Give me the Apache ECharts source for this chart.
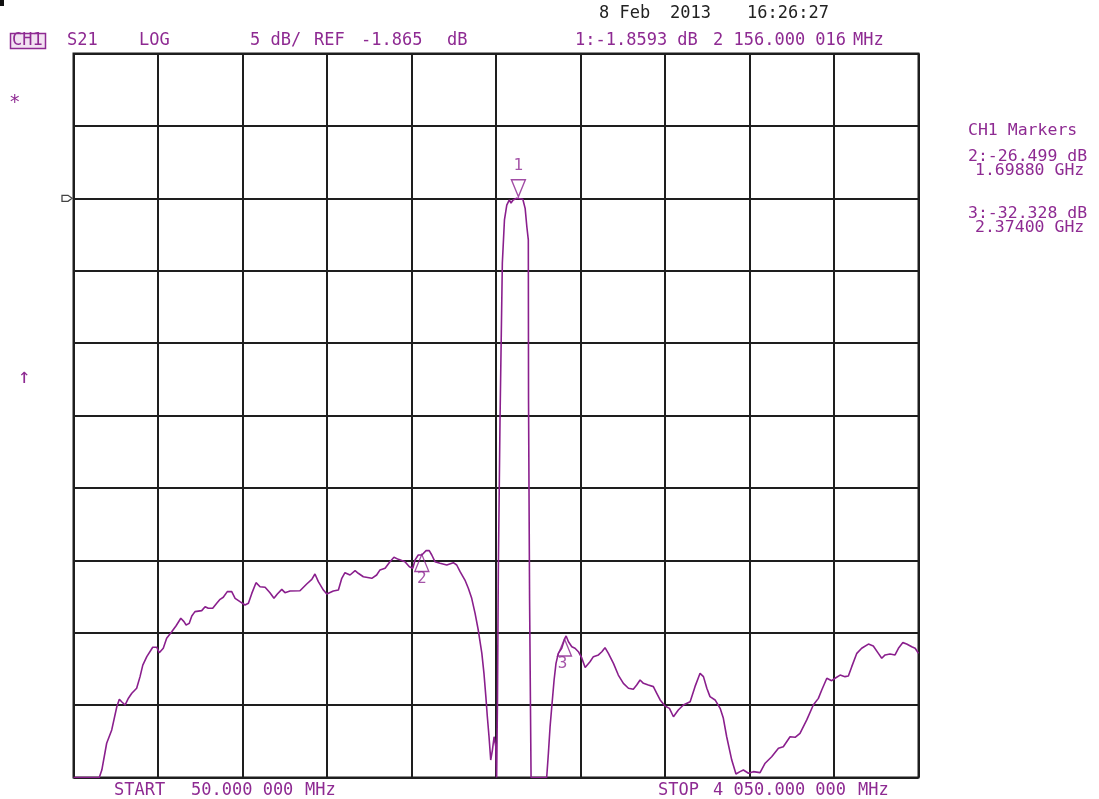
<!DOCTYPE html>
<html>
<head>
<meta charset="utf-8">
<script src="https://cdn.jsdelivr.net/npm/echarts@6/dist/echarts.min.js"></script>
<style>
  html, body { margin: 0; padding: 0; background: #ffffff; }
  #chart { width: 1099px; height: 799px; }
</style>
</head>
<body>
<div id="chart"></div>
<script>
// Sweep settings of the S21 display
const START_MHZ = 50;
const STOP_MHZ = 4050;
const FREQ_PER_DIV = 400;
const REF_DB = -1.865;
const DB_PER_DIV = 5;
const REF_DIV_FROM_TOP = 2;
const DIVISIONS = 10;

// Measured S21 trace: frequency (MHz) and magnitude (dB)
const traceFreq = [
  50, 172, 184, 207, 231, 255, 267, 278, 294, 310, 326, 349, 365, 378, 397, 425, 444, 456, 475, 491,
  515, 535, 558, 573, 583, 598, 610, 625, 657, 673, 688, 709, 728, 744, 759, 778, 799, 815, 838, 862,
  878, 894, 914, 933, 957, 980, 999, 1015, 1036, 1051, 1075, 1122, 1154, 1178, 1193, 1209, 1233, 1249, 1280, 1304,
  1320, 1335, 1359, 1383, 1398, 1422, 1462, 1485, 1501, 1525, 1548, 1567, 1588, 1619, 1640, 1656, 1667, 1682, 1698.8, 1719,
  1734, 1746, 1761, 1785, 1817, 1848, 1864, 1880, 1903, 1919, 1935, 1951, 1966, 1983, 1993, 2002, 2009, 2017, 2025, 2033,
  2041, 2049, 2053, 2057, 2061, 2069, 2080, 2090, 2101, 2113, 2121, 2131, 2148, 2156.000016, 2177, 2188, 2196, 2203, 2204, 2209,
  2216, 2290, 2298, 2306, 2314, 2325, 2334, 2345, 2361, 2374, 2382, 2393, 2409, 2424, 2440, 2456, 2472, 2495, 2511, 2535,
  2551, 2566, 2582, 2606, 2629, 2653, 2677, 2700, 2716, 2732, 2748, 2771, 2795, 2811, 2827, 2850, 2871, 2890, 2913, 2937,
  2969, 2992, 3016, 3032, 3048, 3063, 3087, 3111, 3126, 3142, 3166, 3186, 3205, 3221, 3245, 3268, 3300, 3324, 3355, 3387,
  3410, 3442, 3466, 3489, 3521, 3552, 3576, 3592, 3616, 3639, 3655, 3679, 3702, 3718, 3734, 3758, 3781, 3813, 3836, 3860,
  3876, 3892, 3915, 3939, 3955, 3976, 3994, 4018, 4034, 4050
];
const traceDb = [
  -41.865, -41.865, -41.35, -39.5, -38.58, -36.98, -36.46, -36.63, -36.86, -36.39, -36.05, -35.7, -34.9, -34.1, -33.52, -32.87, -32.87, -33.25, -32.94, -32.25,
  -31.8, -31.4, -30.87, -31.1, -31.33, -31.22, -30.71, -30.41, -30.34, -30.07, -30.18, -30.18, -29.83, -29.56, -29.42, -29.03, -29.03, -29.49, -29.72, -29.95,
  -29.83, -29.15, -28.41, -28.69, -28.73, -29.1, -29.49, -29.19, -28.87, -29.1, -28.99, -28.97, -28.5, -28.18, -27.81, -28.34, -28.92, -29.19, -28.99, -28.92,
  -28.11, -27.72, -27.88, -27.58, -27.76, -28.0, -28.11, -27.88, -27.53, -27.42, -26.96, -26.66, -26.8, -26.96, -27.31, -27.42, -26.84, -26.5, -26.499, -26.2,
  -26.2, -26.5, -26.96, -27.07, -27.19, -27.03, -27.19, -27.65, -28.23, -28.8, -29.49, -30.53, -31.68, -33.29, -34.67, -36.28, -37.67, -39.05, -40.66, -39.97,
  -39.05, -39.74, -41.865, -36.51, -27.65, -17.17, -6.35, -3.36, -2.33, -1.98, -2.19, -1.98, -1.86, -1.8593, -1.93, -2.56, -3.83, -4.74, -15.79, -29.61,
  -41.865, -41.865, -40.19, -38.36, -36.98, -35.13, -33.98, -33.29, -32.94, -32.328, -32.09, -32.49, -32.83, -32.94, -33.18, -33.61, -34.27, -33.87, -33.52, -33.4,
  -33.18, -32.9, -33.29, -33.98, -34.79, -35.36, -35.7, -35.77, -35.48, -35.13, -35.36, -35.48, -35.59, -36.05, -36.51, -36.93, -37.09, -37.67, -37.2, -36.86,
  -36.63, -35.59, -34.67, -34.9, -35.7, -36.28, -36.51, -37.09, -37.76, -39.05, -40.66, -41.62, -41.46, -41.35, -41.57, -41.46, -41.53, -40.88, -40.43, -39.85,
  -39.74, -39.05, -39.09, -38.81, -37.89, -36.86, -36.4, -35.82, -35.01, -35.18, -35.01, -34.79, -34.9, -34.86, -34.21, -33.29, -32.94, -32.65, -32.78, -33.29,
  -33.63, -33.4, -33.34, -33.4, -32.94, -32.55, -32.64, -32.83, -32.94, -33.29
];

// Marker readouts
const markerIds = ['1', '2', '3'];
const markerFreq = [2156.000016, 1698.8, 2374.0];
const markerDb = [-1.8593, -26.499, -32.328];

const TRACE = '#8a1f8d';
const INK = '#8e2a92';
const GRIDC = '#1e1e1e';
const FONT = 'DejaVu Sans Mono';

const yMin = REF_DB - (DIVISIONS - REF_DIV_FROM_TOP) * DB_PER_DIV;
const yMax = REF_DB + REF_DIV_FROM_TOP * DB_PER_DIV;

const chart = echarts.init(document.getElementById('chart'), null, { renderer: 'canvas' });

const markerData = markerIds.map((id, i) => {
  const down = i === 0;
  return {
    name: id,
    value: [markerFreq[i], markerDb[i]],
    symbolRotate: down ? 180 : 0,
    symbolOffset: [0, down ? -10 : 8],
    label: {
      position: down ? 'top' : 'bottom',
      distance: down ? 4 : 0,
      offset: i === 2 ? [-2, -1] : [0, -1]
    }
  };
});

const option = {
  animation: false,
  backgroundColor: '#ffffff',
  grid: {
    left: 73.5, top: 53.5, width: 845, height: 724,
    show: true, borderColor: GRIDC, borderWidth: 2, backgroundColor: 'transparent'
  },
  xAxis: {
    type: 'value', min: START_MHZ, max: STOP_MHZ, interval: FREQ_PER_DIV,
    axisLine: { show: false }, axisTick: { show: false }, axisLabel: { show: false },
    splitLine: { show: true, lineStyle: { color: GRIDC, width: 2 } }
  },
  yAxis: {
    type: 'value', min: yMin, max: yMax, interval: DB_PER_DIV,
    axisLine: { show: false }, axisTick: { show: false }, axisLabel: { show: false },
    splitLine: { show: true, lineStyle: { color: GRIDC, width: 2 } }
  },
  series: [
    {
      type: 'line',
      data: traceFreq.map((f, i) => [f, traceDb[i]]),
      showSymbol: false,
      clip: true,
      lineStyle: { color: TRACE, width: 1.6 },
      z: 3
    },
    {
      type: 'scatter',
      data: markerData,
      symbol: 'triangle',
      symbolSize: [14, 17],
      itemStyle: { color: 'rgba(255,255,255,0)', borderColor: TRACE, borderWidth: 1.4 },
      label: {
        show: true, formatter: '{b}', color: INK,
        fontFamily: FONT, fontSize: 16
      },
      z: 4
    }
  ]
};
chart.setOption(option);

function txt(text, x, y, color, size) {
  return {
    type: 'text', silent: true,
    style: {
      text: text, x: x, y: y, fill: color,
      fontFamily: FONT, fontSize: size || 17,
      align: 'left', verticalAlign: 'middle'
    }
  };
}

// Reference level pointer on the left frame edge
const refY = chart.convertToPixel({ gridIndex: 0 }, [START_MHZ, REF_DB])[1];

const graphics = [
  { type: 'rect', silent: true, shape: { x: 0, y: 0, width: 4, height: 6 }, style: { fill: '#111' } },
  // date / time
  txt('8 Feb', 599, 14, '#222'),
  txt('2013', 670, 14, '#222'),
  txt('16:26:27', 747, 14, '#222'),
  // channel header
  { type: 'rect', silent: true, shape: { x: 10.5, y: 33.5, width: 35, height: 15 },
    style: { fill: '#f2e2f2', stroke: INK, lineWidth: 1.5 } },
  txt('CH1', 12, 41, INK),
  txt('S21', 67, 41, INK),
  txt('LOG', 139, 41, INK),
  txt('5 dB/', 250, 41, INK),
  txt('REF', 314, 41, INK),
  txt('-1.865', 361, 41, INK),
  txt('dB', 447, 41, INK),
  txt('1:-1.8593 dB', 575, 41, INK),
  txt('2 156.000 016', 713, 41, INK),
  txt('MHz', 853, 41, INK),
  // side annotations
  txt('*', 9, 103, INK, 19),
  txt('↑', 18, 378, INK, 21),
  { type: 'polygon', silent: true,
    shape: { points: [[62, refY - 3], [68, refY - 3], [72, refY], [68, refY + 3], [62, refY + 3]] },
    style: { fill: 'none', stroke: '#444', lineWidth: 1.3 } },
  // marker table
  txt('CH1 Markers', 968, 131, INK, 16.5),
  txt('2:-26.499 dB', 968, 157, INK, 16.5),
  txt('1.69880 GHz', 975, 171, INK, 16.5),
  txt('3:-32.328 dB', 968, 214, INK, 16.5),
  txt('2.37400 GHz', 975, 228, INK, 16.5),
  // sweep limits
  txt('START', 114, 791, INK),
  txt('50.000 000', 191, 791, INK),
  txt('MHz', 305, 791, INK),
  txt('STOP', 658, 791, INK),
  txt('4 050.000 000', 713, 791, INK),
  txt('MHz', 858, 791, INK)
];
chart.setOption({ graphic: graphics });
</script>
</body>
</html>
